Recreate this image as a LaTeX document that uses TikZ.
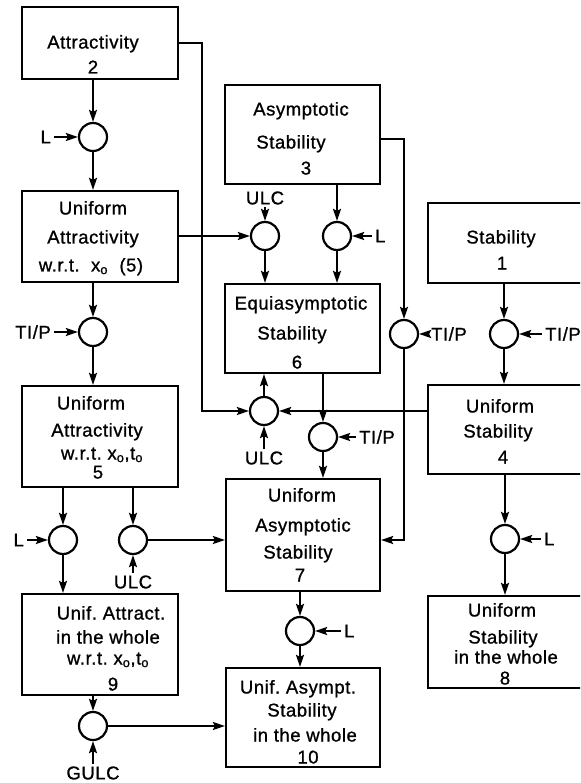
\documentclass[tikz,border=0pt]{standalone}
\usepackage{fontspec}
\setmainfont{Liberation Sans}[LetterSpace=3,FakeBold=1]
\usetikzlibrary{arrows.meta}
\begin{document}
\begin{tikzpicture}[x=1pt,y=-1pt,
  bx/.style={draw, line width=2.2pt, inner sep=0pt},
  cr/.style={draw, circle, line width=2.2pt, minimum size=28pt, inner sep=0pt},
  txt/.style={inner sep=0pt, font=\fontsize{18.5}{20}\selectfont},
  lab/.style={inner xsep=3pt, inner ysep=2pt, font=\fontsize{18.5}{20}\selectfont},
  ar/.style={line width=2.2pt, -{Stealth[length=12pt,width=8pt,inset=2pt]}}]
\newcommand\tx[4]{\node[txt, anchor=base] (#1) at (#2,#3+6.5) {#4};}
\path[use as bounding box] (0,0) rectangle (580,783);
\clip (0,0) rectangle (580,783);
% boxes
\node[bx, minimum width=156pt, minimum height=72pt]  (b2)  at (100,43) {};
\node[bx, minimum width=156pt, minimum height=91pt]  (b5p) at (100,236.5) {};
\node[bx, minimum width=156pt, minimum height=101pt] (b5)  at (100,436.5) {};
\node[bx, minimum width=156pt, minimum height=101pt] (b9)  at (100,644.5) {};
\node[bx, minimum width=155pt, minimum height=99pt]  (b3)  at (302.5,134.5) {};
\node[bx, minimum width=155pt, minimum height=89pt]  (b6)  at (302.5,328.5) {};
\node[bx, minimum width=154pt, minimum height=112pt] (b7)  at (303,535) {};
\node[bx, minimum width=154pt, minimum height=99pt]  (b10) at (303,717.5) {};
\node[bx, minimum width=156pt, minimum height=80pt]  (b1)  at (506,243) {};
\node[bx, minimum width=156pt, minimum height=89pt]  (b4)  at (506,429.5) {};
\node[bx, minimum width=156pt, minimum height=92pt]  (b8)  at (506,642) {};
% box texts
\tx{t2a}{93}{42}{Attractivity}
\tx{t2b}{93}{67}{2}
\tx{t5pa}{93}{208}{Uniform}
\tx{t5pb}{93}{237}{Attractivity}
\tx{t5pc}{91}{265}{w.r.t.\ \ x\textsubscript{o}\ \ (5)}
\tx{t5a}{91}{403}{Uniform}
\tx{t5b}{97}{430}{Attractivity}
\tx{t5c}{102}{453}{w.r.t.\ x\textsubscript{o},t\textsubscript{o}}
\tx{t5d}{98}{472}{5}
\tx{t9a}{111}{613}{Unif.\ Attract.}
\tx{t9b}{108}{637}{in the\ whole}
\tx{t9c}{108}{658}{w.r.t.\ x\textsubscript{o},t\textsubscript{o}}
\tx{t9d}{113}{684}{9}
\tx{t3a}{301}{109}{Asymptotic}
\tx{t3b}{291}{142}{Stability}
\tx{t3c}{306}{168}{3}
\tx{t6a}{301}{303}{Equiasymptotic}
\tx{t6b}{292}{333}{Stability}
\tx{t6c}{297}{362}{6}
\tx{t1a}{501}{237}{Stability}
\tx{t1b}{502}{263}{1}
\tx{t4a}{500}{406}{Uniform}
\tx{t4b}{498}{431}{Stability}
\tx{t4c}{503}{457}{4}
\tx{t7a}{302}{495}{Uniform}
\tx{t7b}{303}{525}{Asymptotic}
\tx{t7c}{298}{552}{Stability}
\tx{t7d}{300}{575}{7}
\tx{t8a}{502}{610}{Uniform}
\tx{t8b}{503}{637}{Stability}
\tx{t8c}{506}{657}{in the\ whole}
\tx{t8d}{505}{678}{8}
\tx{t10a}{298}{687}{Unif.\ Asympt.}
\tx{t10b}{302}{710}{Stability}
\tx{t10c}{305}{735}{in the\ whole}
\tx{t10d}{308}{757}{10}
% circles
\node[cr] (c1) at (93,137) {};
\node[cr] (c2) at (93,332) {};
\node[cr] (cA) at (265,236) {};
\node[cr] (cB) at (337,236) {};
\node[cr] (cC) at (404,334) {};
\node[cr] (cD) at (504,334) {};
\node[cr] (cE) at (264,411) {};
\node[cr] (cF) at (323,437) {};
\node[cr] (cG) at (505,539) {};
\node[cr] (cH) at (63,540) {};
\node[cr] (cI) at (133,540) {};
\node[cr] (cJ) at (300,631) {};
\node[cr] (cK) at (93,726) {};
% labels
\node[lab, anchor=east] (l1) at (54,137) {L};
\node[lab, anchor=east] (l2) at (54,332) {TI/P};
\node[lab] (uA) at (265,198) {ULC};
\node[lab, anchor=west] (lB) at (372,236) {L};
\node[lab, anchor=west] (lC) at (428,334) {TI/P};
\node[lab, anchor=west] (lD) at (542,334) {TI/P};
\node[lab] (uE) at (264,458) {ULC};
\node[lab, anchor=west] (lF) at (356,437) {TI/P};
\node[lab, anchor=west] (lG) at (541,539) {L};
\node[lab, anchor=east] (lH) at (27,540) {L};
\node[lab] (uI) at (133,582) {ULC};
\node[lab, anchor=west] (lJ) at (341,631) {L};
\node[lab] (gK) at (93,773) {GULC};
\coordinate (k1) at (202,43);
\coordinate (k2) at (404,139);
% connectors
\draw[ar] (b2.south -| c1) -- (c1.north);
\draw[ar] (c1.south) -- (c1 |- b5p.north);
\draw[ar] (b5p.south -| c2) -- (c2.north);
\draw[ar] (c2.south) -- (c2 |- b5.north);
\draw[ar] (b2.east) -- (k1) |- (cE.west);
\draw[ar] (b5p.east |- cA) -- (cA.west);
\draw[ar] (k2 -| b3.east) -- (k2) -- (cC.north);
\draw[ar] (cC.south) |- (b7.east |- cH);
\draw[ar] (b4.west |- cE) -- (cE.east);
\draw[ar] (cE.north) -- (cE |- b6.south);
\draw[ar] (b6.south -| cF) -- (cF.north);
\draw[ar] (cF.south) -- (cF |- b7.north);
\draw[ar] (cA.south) -- (cA |- b6.north);
\draw[ar] (b3.south -| cB) -- (cB.north);
\draw[ar] (cB.south) -- (cB |- b6.north);
\draw[ar] (b1.south -| cD) -- (cD.north);
\draw[ar] (cD.south) -- (cD |- b4.north);
\draw[ar] (b4.south -| cG) -- (cG.north);
\draw[ar] (cG.south) -- (cG |- b8.north);
\draw[ar] (b5.south -| cH) -- (cH.north);
\draw[ar] (b5.south -| cI) -- (cI.north);
\draw[ar] (cH.south) -- (cH |- b9.north);
\draw[ar] (cI.east) -- (b7.west |- cI);
\draw[ar] (b7.south -| cJ) -- (cJ.north);
\draw[ar] (cJ.south) -- (cJ |- b10.north);
\draw[ar] (b9.south -| cK) -- (cK.north);
\draw[ar] (cK.east) -- (b10.west |- cK);
% label arrows
\draw[ar] (l1.east) -- (c1.west);
\draw[ar] (l2.east) -- (c2.west);
\draw[ar] (uA.south) -- (cA.north);
\draw[ar] (lB.west) -- (cB.east);
\draw[ar] (lC.west) -- (cC.east);
\draw[ar] (lD.west) -- (cD.east);
\draw[ar] (uE.north) -- (cE.south);
\draw[ar] (lF.west) -- (cF.east);
\draw[ar] (lG.west) -- (cG.east);
\draw[ar] (lH.east) -- (cH.west);
\draw[ar] (uI.north) -- (cI.south);
\draw[ar] (lJ.west) -- (cJ.east);
\draw[ar] (gK.north) -- (cK.south);
\end{tikzpicture}
\end{document}
